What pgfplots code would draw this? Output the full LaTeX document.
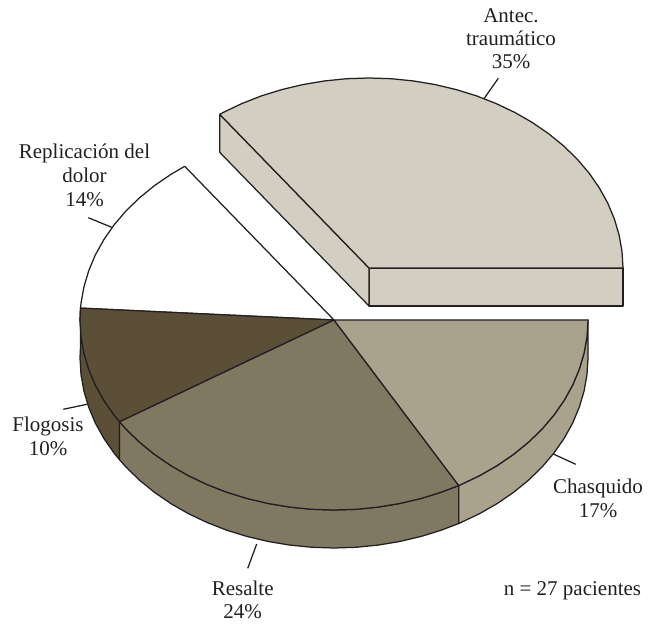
\documentclass[border=0pt]{standalone}
\usepackage{pgfplots}
\pgfplotsset{compat=1.18}
\usepackage{fontspec}
\setmainfont{Liberation Serif}
\definecolor{cAntec}{HTML}{D3CEC2}
\definecolor{cChasq}{HTML}{A9A28D}
\definecolor{cResal}{HTML}{807860}
\definecolor{cFlog}{HTML}{5B4F38}
\definecolor{cLine}{HTML}{231F20}
\tikzset{lbl/.style={anchor=base, inner sep=0pt, font=\fontsize{21}{24}\selectfont, text=cLine}}
\begin{document}
\begin{tikzpicture}
\useasboundingbox (0,0) rectangle (660pt,624pt);
\begin{axis}[
  at={(0,0)}, anchor=south west,
  hide axis, scale only axis, width=660pt, height=624pt,
  xmin=0, xmax=660, ymin=0, ymax=624, clip=false, no markers,
  every axis plot/.append style={sharp plot, mark=none, draw=cLine, line width=1.25pt, line join=round}
]
% Replicacion del dolor 14% (126 to 176.4 deg)
\addplot[fill=white] coordinates {(334,304)(184.7,457.7)(170.7,449.5)(154.4,438.3)(139.4,426.1)(125.9,413)(114,399)(103.8,384.3)(95.3,369)(88.7,353.2)(83.9,337)(81,320.6)(80.5,315.9)(334,304)};
% Flogosis 10% rim and top (176.4 to 212.4 deg)
\addplot[fill=cFlog] coordinates {(80.5,315.9)(80,304)(81,287.4)(83.9,271)(88.7,254.8)(95.3,239)(103.8,223.7)(114,209)(119.6,202.2)(119.6,164.2)(114,171)(103.8,185.7)(95.3,201)(88.7,216.8)(83.9,233)(81,249.4)(80,266)(80.5,277.9)(80.5,315.9)};
\addplot[fill=cFlog] coordinates {(334,304)(80.5,315.9)(80,304)(81,287.4)(83.9,271)(88.7,254.8)(95.3,239)(103.8,223.7)(114,209)(119.6,202.2)(334,304)};
% Resalte 24% rim and top (212.4 to 299.4 deg)
\addplot[fill=cResal] coordinates {(119.6,202.2)(125.9,195)(139.4,181.9)(154.4,169.7)(170.7,158.5)(188.3,148.4)(207,139.5)(226.7,131.8)(247.1,125.5)(268.3,120.5)(289.9,116.9)(311.9,114.7)(334,114)(356.1,114.7)(378.1,116.9)(399.7,120.5)(420.9,125.5)(441.3,131.8)(458.7,138.5)(458.7,100.5)(441.3,93.8)(420.9,87.5)(399.7,82.5)(378.1,78.9)(356.1,76.7)(334,76)(311.9,76.7)(289.9,78.9)(268.3,82.5)(247.1,87.5)(226.7,93.8)(207,101.5)(188.3,110.4)(170.7,120.5)(154.4,131.7)(139.4,143.9)(125.9,157)(119.6,164.2)(119.6,202.2)};
\addplot[fill=cResal] coordinates {(334,304)(119.6,202.2)(125.9,195)(139.4,181.9)(154.4,169.7)(170.7,158.5)(188.3,148.4)(207,139.5)(226.7,131.8)(247.1,125.5)(268.3,120.5)(289.9,116.9)(311.9,114.7)(334,114)(356.1,114.7)(378.1,116.9)(399.7,120.5)(420.9,125.5)(441.3,131.8)(458.7,138.5)(334,304)};
% Chasquido 17% rim and top (299.4 to 360 deg)
\addplot[fill=cChasq] coordinates {(458.7,138.5)(461,139.5)(479.7,148.4)(497.3,158.5)(513.6,169.7)(528.6,181.9)(542.1,195)(554,209)(564.2,223.7)(572.7,239)(579.3,254.8)(584.1,271)(587,287.4)(588,304)(588,266)(587,249.4)(584.1,233)(579.3,216.8)(572.7,201)(564.2,185.7)(554,171)(542.1,157)(528.6,143.9)(513.6,131.7)(497.3,120.5)(479.7,110.4)(461,101.5)(458.7,100.5)(458.7,138.5)};
\addplot[fill=cChasq] coordinates {(334,304)(458.7,138.5)(461,139.5)(479.7,148.4)(497.3,158.5)(513.6,169.7)(528.6,181.9)(542.1,195)(554,209)(564.2,223.7)(572.7,239)(579.3,254.8)(584.1,271)(587,287.4)(588,304)(334,304)};
% Antec. traumatico 35% (exploded, 0 to 126 deg)
\addplot[fill=cAntec] coordinates {(369,356)(623,356)(623,318)(369,318)(369,356)};
\addplot[fill=cAntec] coordinates {(219.7,509.7)(369,356)(369,318)(219.7,471.7)(219.7,509.7)};
\addplot[fill=cAntec] coordinates {(369,356)(623,356)(622,372.6)(619.1,389)(614.3,405.2)(607.7,421)(599.2,436.3)(589,451)(577.1,465)(563.6,478.1)(548.6,490.3)(532.3,501.5)(514.7,511.6)(496,520.5)(476.3,528.2)(455.9,534.5)(434.7,539.5)(413.1,543.1)(391.1,545.3)(369,546)(346.9,545.3)(324.9,543.1)(303.3,539.5)(282.1,534.5)(261.7,528.2)(242,520.5)(223.3,511.6)(219.7,509.7)(369,356)};
% Leader lines
\addplot[fill=none] coordinates {(498.3,545.7)(484,525.3)};
\addplot[fill=none] coordinates {(88.3,406.3)(111.7,396.7)};
\addplot[fill=none] coordinates {(63.3,214.7)(88.3,220)};
\addplot[fill=none] coordinates {(256.7,80)(247.7,55.7)};
\addplot[fill=none] coordinates {(553.3,170)(575.7,159.7)};
% Labels
\node[lbl] at (axis cs:511,601.3) {Antec.};
\node[lbl] at (axis cs:511,578.3) {traumático};
\node[lbl] at (axis cs:511,555) {35\%};
\node[lbl] at (axis cs:84.5,465) {Replicación del};
\node[lbl] at (axis cs:84.5,441) {dolor};
\node[lbl] at (axis cs:84.5,417.3) {14\%};
\node[lbl] at (axis cs:48,192.3) {Flogosis};
\node[lbl] at (axis cs:48,169) {10\%};
\node[lbl] at (axis cs:242.7,29) {Resalte};
\node[lbl] at (axis cs:242.7,5.3) {24\%};
\node[lbl] at (axis cs:598,130.7) {Chasquido};
\node[lbl] at (axis cs:598,106.7) {17\%};
\node[lbl] at (axis cs:572.5,29) {n = 27 pacientes};
\end{axis}
\end{tikzpicture}
\end{document}
